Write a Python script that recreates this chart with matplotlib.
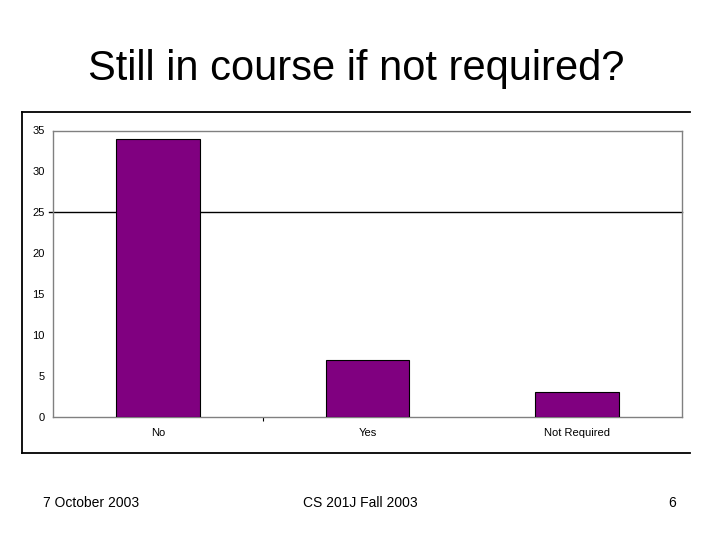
import matplotlib
matplotlib.use('Agg')
import matplotlib.pyplot as plt
from matplotlib.lines import Line2D

# data
categories = ['No', 'Yes', 'Not Required']
counts = [34, 7, 3]
yticks = [0, 5, 10, 15, 20, 25, 30, 35]

title = 'Still in course if not required?'
footer_left = '7 October 2003'
footer_mid = 'CS 201J Fall 2003'
footer_right = '6'

plt.rcParams['font.family'] = ['Liberation Sans', 'DejaVu Sans']

fig = plt.figure(figsize=(7.2, 5.4), dpi=100)
fig.patch.set_facecolor('white')

# slide title
fig.text(0.495, 0.872, title, ha='center', va='center', fontsize=30)

# outer chart box (top, left, bottom lines only)
W, H = 720.0, 540.0
x0, x1 = 22 / W, 690 / W
y0, y1 = 1 - 453 / H, 1 - 112 / H
for xs, ys in [([x0, x1], [y1, y1]), ([x0, x1], [y0, y0]), ([x0, x0], [y0, y1])]:
    fig.add_artist(Line2D(xs, ys, color='black', lw=1.3, transform=fig.transFigure))

ax = fig.add_axes([53 / W, 1 - 417 / H, 629 / W, 286.5 / H])
x = list(range(len(categories)))
ax.bar(x, counts, width=0.4, color='#800080', edgecolor='black', linewidth=0.8, zorder=3)
ax.axhline(25, xmin=-0.006, xmax=1, color='black', lw=1.0, clip_on=False, zorder=2)

ax.set_xlim(-0.5, 2.5)
ax.set_ylim(0, 35)
ax.set_yticks(yticks)
ax.set_yticklabels([str(v) for v in yticks], fontsize=8)
ax.tick_params(axis='y', length=0, pad=6)

ax.set_xticks(x)
ax.set_xticklabels(categories, fontsize=8)
ax.tick_params(axis='x', length=0, pad=8)
ax.set_xticks([0.5], minor=True)
ax.tick_params(axis='x', which='minor', length=3, color='black', width=0.8)

for s in ax.spines.values():
    s.set_color('#808080')
    s.set_linewidth(1.0)

# footer
fig.text(43 / W, 1 - 503 / H, footer_left, ha='left', va='center', fontsize=10)
fig.text(360 / W, 1 - 503 / H, footer_mid, ha='center', va='center', fontsize=10)
fig.text(676 / W, 1 - 503 / H, footer_right, ha='right', va='center', fontsize=10)

fig.savefig('out.png', dpi=100)
